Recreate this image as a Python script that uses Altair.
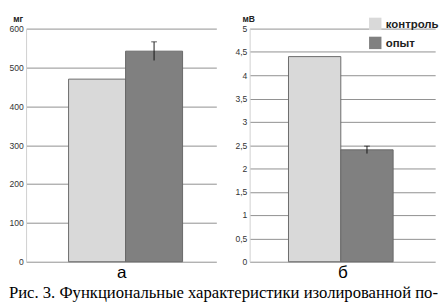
import altair as alt
import pandas as pd

groups = ["контроль", "опыт"]
mass = [470, 542]
mass_err = [0, 24]
volt = [4.4, 2.4]
volt_err = [0, 0.08]
colors = ["#d9d9d9", "#808080"]
caption = "Рис. 3. Функциональные характеристики изолированной по-"

df_m = pd.DataFrame({"g": groups, "v": mass, "lo": [m - e for m, e in zip(mass, mass_err)],
                     "hi": [m + e for m, e in zip(mass, mass_err)], "e": mass_err})
df_v = pd.DataFrame({"g": groups, "v": volt, "lo": [m - e for m, e in zip(volt, volt_err)],
                     "hi": [m + e for m, e in zip(volt, volt_err)], "e": volt_err})

FONT = "Liberation Sans"
CAPFONT = "Times New Roman, Liberation Serif, serif"
color_scale = alt.Scale(domain=groups, range=colors)


def panel(df, letter, unit, ymax, step, po, align, width, label_expr, legend, tx):
    xaxis = alt.Axis(labels=False, ticks=False, domain=False, title=letter,
                     titleFont=FONT, titleFontSize=18, titleFontWeight="normal",
                     titleColor="#000", titlePadding=3)
    xscale = alt.Scale(paddingInner=0, paddingOuter=po, align=align)
    yscale = alt.Scale(domain=[0, ymax], nice=False)
    yaxis = alt.Axis(values=[i * step for i in range(int(round(ymax / step)) + 1)],
                     grid=True, gridColor="#8c8c8c", gridWidth=1,
                     domainColor="#cfcfcf", ticks=False, labelPadding=3,
                     labelFont=FONT, labelFontSize=9, labelColor="#333",
                     labelExpr=label_expr, labelOverlap=False,
                     title=unit, titleAngle=0, titleAlign="left",
                     titleBaseline="top", titleX=tx,
                     titleY=-14, titleFont=FONT, titleFontSize=9,
                     titleFontWeight="bold", titleColor="#222")
    leg = None
    if legend:
        leg = alt.Legend(title=None, orient="none", legendX=125, legendY=-12,
                         padding=0, symbolType="square", symbolSize=170,
                         symbolStrokeWidth=0, labelFont=FONT, labelFontSize=12,
                         labelFontWeight="bold", labelColor="#222", rowPadding=6,
                         labelOffset=4)
    bars = alt.Chart(df).mark_bar(stroke="#666", strokeWidth=1).encode(
        x=alt.X("g:N", sort=groups, scale=xscale, axis=xaxis),
        y=alt.Y("v:Q", scale=yscale, axis=yaxis, title=unit),
        color=alt.Color("g:N", scale=color_scale, legend=leg),
    )
    err_df = df[df["e"] > 0]
    rule = alt.Chart(err_df).mark_rule(color="#111", strokeWidth=1).encode(
        x=alt.X("g:N", sort=groups, scale=xscale, axis=xaxis),
        y=alt.Y("lo:Q", scale=yscale, axis=yaxis, title=unit), y2="hi:Q")
    cap = alt.Chart(err_df).mark_tick(color="#111", size=6, thickness=1,
                                      orient="horizontal").encode(
        x=alt.X("g:N", sort=groups, scale=xscale, axis=xaxis),
        y=alt.Y("hi:Q", scale=yscale, axis=yaxis, title=unit))
    return alt.layer(bars, rule, cap).properties(width=width, height=245)


left = panel(df_m, "а", "мг", 600, 100, 0.669, 0.557, 200, "datum.label", False, -14)
right = panel(df_v, "б", "мВ", 5, 0.5, 0.773, 0.48, 195,
              "replace(toString(datum.value), '.', ',')", True, -8)

chart = alt.hconcat(left, right, spacing=35, bounds="flush").resolve_scale(
    y="independent", x="independent", color="independent"
).properties(
    title=alt.TitleParams(caption, orient="bottom", anchor="start",
                          font=CAPFONT, fontSize=17.5,
                          fontWeight="normal", color="#000", offset=3),
    padding=0,
).configure_view(stroke=None)

chart.save("out.html", embed_options={"renderer": "svg", "actions": False})
